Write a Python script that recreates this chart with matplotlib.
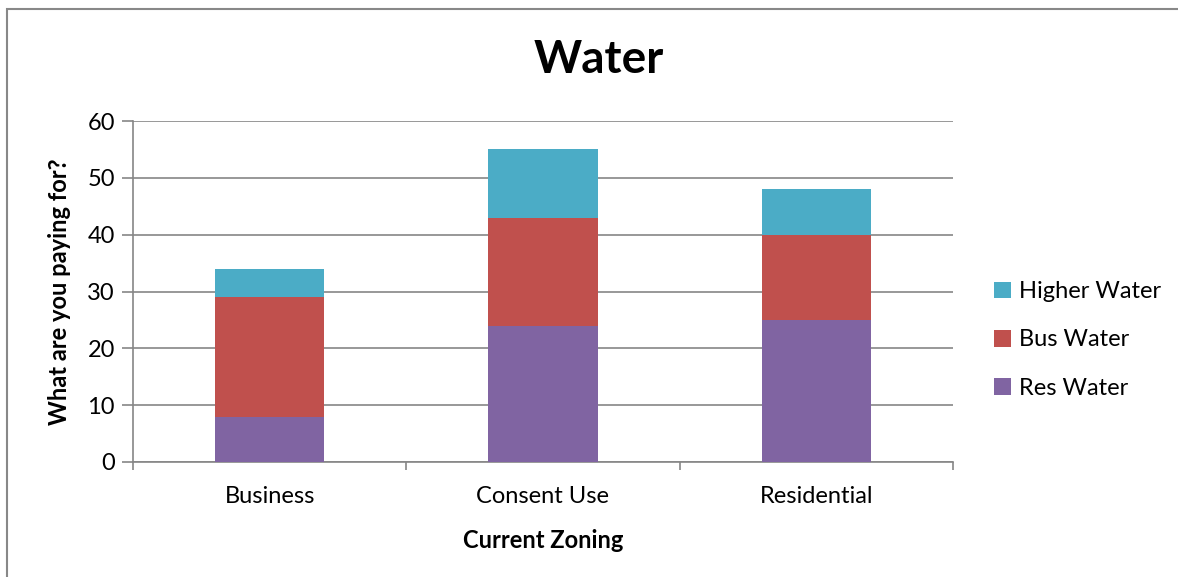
import matplotlib.pyplot as plt
import matplotlib.patches as mpatches
import numpy as np

plt.rcParams['font.family'] = ['Lato', 'DejaVu Sans']

categories = ['Business', 'Consent Use', 'Residential']
res_water = [8, 24, 25]
bus_water = [21, 19, 15]
higher_water = [5, 12, 8]

colors = {'Res Water': '#8064A2', 'Bus Water': '#C0504D', 'Higher Water': '#4BACC6'}
grid_c = '#868686'

fig = plt.figure(figsize=(11.78, 5.77), dpi=100)
W, H = 1178, 577
ax = fig.add_axes([133 / W, 1 - 462 / H, (953 - 133) / W, (462 - 121) / H])

x = np.arange(len(categories))
res = np.array(res_water)
bus = np.array(bus_water)
hi = np.array(higher_water)
bw = 0.4
ax.bar(x, res, bw, color=colors['Res Water'], label='Res Water', zorder=3)
ax.bar(x, bus, bw, bottom=res, color=colors['Bus Water'], label='Bus Water', zorder=3)
ax.bar(x, hi, bw, bottom=res + bus, color=colors['Higher Water'], label='Higher Water', zorder=3)

ax.set_xlim(-0.5, 2.5)
ax.set_ylim(0, 60)
ax.set_yticks(range(0, 61, 10))
ax.yaxis.grid(True, color=grid_c, lw=1.2)
ax.set_axisbelow(True)
for s in ['top', 'right']:
    ax.spines[s].set_visible(False)
for s in ['left', 'bottom']:
    ax.spines[s].set_color(grid_c)
    ax.spines[s].set_linewidth(1.2)

ax.set_xticks([-0.5, 0.5, 1.5, 2.5])
ax.set_xticklabels([])
ax.set_xticks(x, minor=True)
ax.set_xticklabels(categories, minor=True, fontsize=17)
ax.tick_params(axis='x', which='major', length=6, color=grid_c, width=1.2)
ax.tick_params(axis='x', which='minor', length=0, pad=17)
ax.tick_params(axis='y', length=8, color=grid_c, width=1.2, labelsize=17, pad=5)

ax.set_xlabel('Current Zoning', fontsize=17, fontweight='bold', labelpad=16)
ax.set_ylabel('What are you paying for?', fontsize=17, fontweight='bold', labelpad=12)
fig.text(599 / W, 1 - 60 / H, 'Water', ha='center', va='center', fontsize=33, fontweight='bold')

h, l = ax.get_legend_handles_labels()
fig.legend(h[::-1], l[::-1], loc='center left', bbox_to_anchor=(973 / W, 1 - 340 / H),
           frameon=False, fontsize=17, handlelength=0.7, handleheight=0.7,
           labelspacing=1.15, handletextpad=0.35)

fig.patches.append(mpatches.Rectangle((7 / W, -0.1), 1.2, 1 - 9 / H + 0.1, transform=fig.transFigure,
                                      fill=False, ec='#888888', lw=1.5))

fig.savefig('out.png', dpi=100)
